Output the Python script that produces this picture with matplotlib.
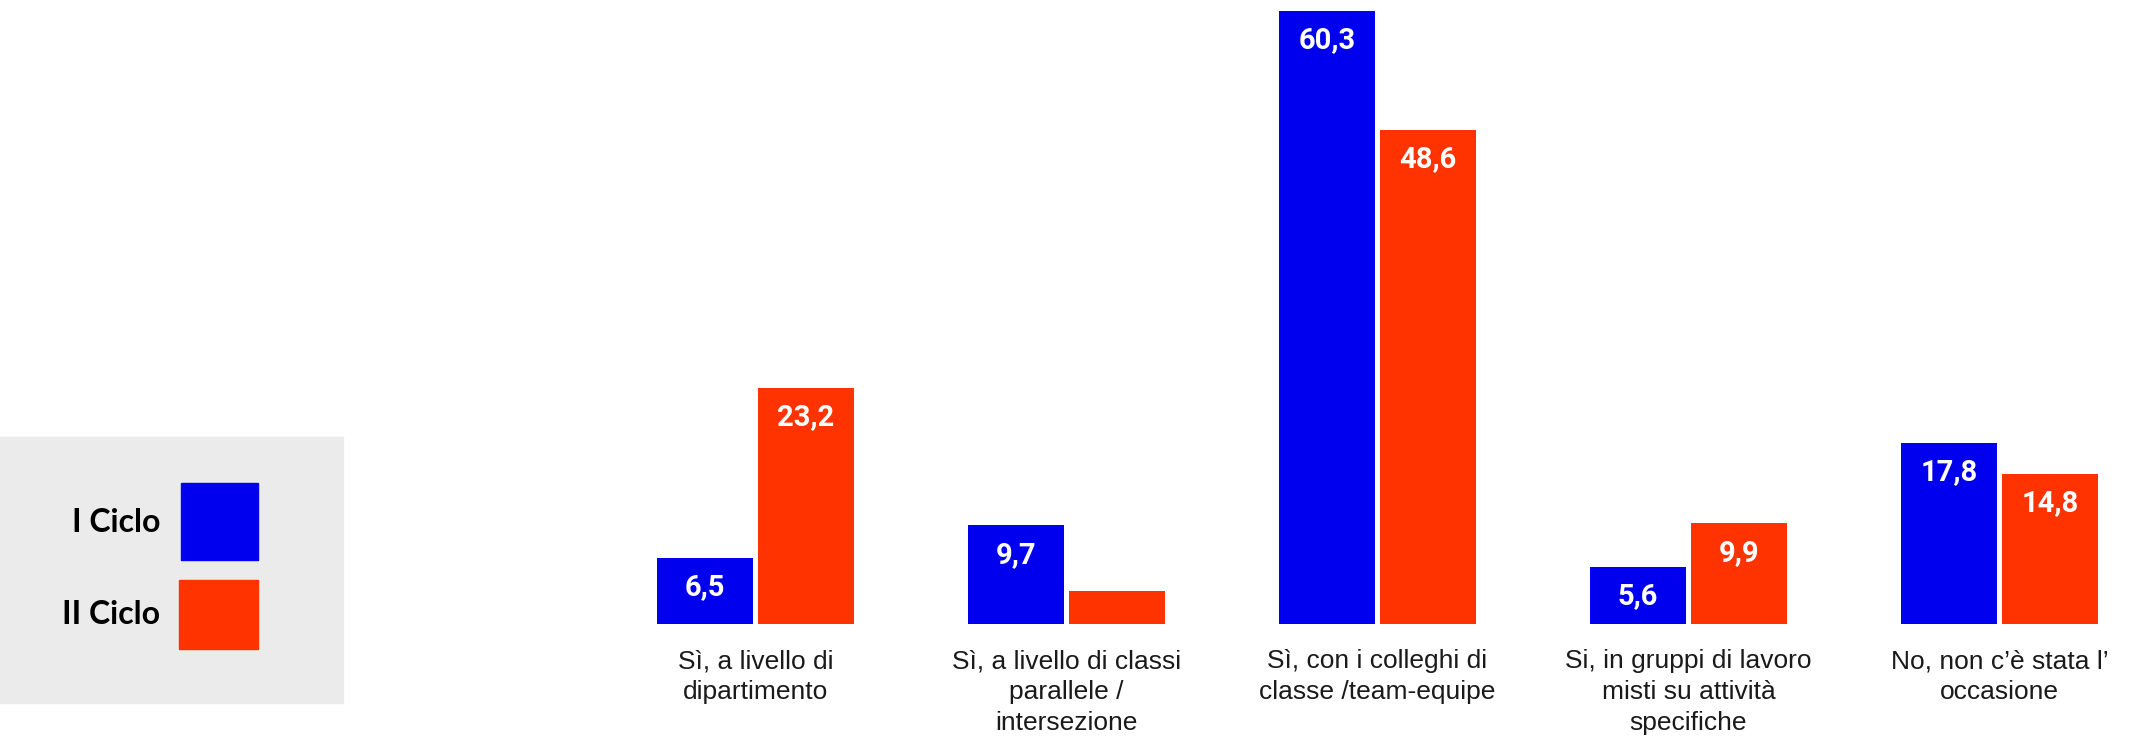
import numpy as np
import matplotlib
matplotlib.use("Agg")
import matplotlib.pyplot as plt
from matplotlib.patches import Rectangle

categories = [
    "Sì, a livello di\ndipartimento",
    "Sì, a livello di classi\nparallele /\nintersezione",
    "Sì, con i colleghi di\nclasse /team-equipe",
    "Si, in gruppi di lavoro\nmisti su attività\nspecifiche",
    "No, non c\u2019è stata l\u2019\noccasione",
]
primo_ciclo = [6.5, 9.7, 60.3, 5.6, 17.8]
secondo_ciclo = [23.2, 3.2, 48.6, 9.9, 14.8]
series_names = ["I Ciclo", "II Ciclo"]

BLUE = "#0000EE"
RED = "#FF3300"

W, H = 2132, 740
fig = plt.figure(figsize=(W / 100, H / 100), dpi=100)

# axes laid out in pixels: baseline at y=624 from top, groups 311 px apart
step = 311.0
left_px = 600
ax = fig.add_axes([left_px / W, 116 / H, (W - left_px) / W, 624 / H])
ax.set_xlim(-0.5, -0.5 + (W - left_px) / step)
ax.set_ylim(0, 624 / 10.166)

x = np.arange(len(categories))
bw = 96 / step
off = (96 + 5) / step / 2

b1 = ax.bar(x - off, primo_ciclo, bw, color=BLUE)
b2 = ax.bar(x + off, secondo_ciclo, bw, color=RED)

for bars, vals in ((b1, primo_ciclo), (b2, secondo_ciclo)):
    for rect, v in zip(bars, vals):
        if v < 5:
            continue  # too short for a label
        ax.annotate(f"{v:.1f}".replace(".", ","),
                    (rect.get_x() + rect.get_width() / 2, v),
                    xytext=(0, -11), textcoords="offset points",
                    ha="center", va="top", color="white",
                    fontsize=21, fontweight="bold", family="Roboto")

ax.set_xticks(x)
ax.set_xticklabels(categories, family="Liberation Sans", fontsize=19,
                   linespacing=1.38, color="#1a1a1a")
ax.tick_params(axis="x", length=0, pad=18)
ax.set_yticks([])
for s in ax.spines.values():
    s.set_visible(False)
ax.patch.set_alpha(0)

# legend box on the left
fig.patches.append(Rectangle((0, 1 - 703 / H), 343 / W, 266 / H,
                             transform=fig.transFigure, color="#EBEBEB", zorder=0))
fig.patches.append(Rectangle((181 / W, 1 - 560 / H), 77 / W, 77 / H,
                             transform=fig.transFigure, color=BLUE, zorder=1))
fig.patches.append(Rectangle((179 / W, 1 - 649 / H), 79 / W, 69 / H,
                             transform=fig.transFigure, color=RED, zorder=1))
fig.text(160 / W, 1 - 522 / H, series_names[0], ha="right", va="center",
         fontsize=23, fontweight="bold", family="Lato")
fig.text(160 / W, 1 - 615 / H, series_names[1], ha="right", va="center",
         fontsize=23, fontweight="bold", family="Lato")

fig.savefig("out.png", dpi=100)
